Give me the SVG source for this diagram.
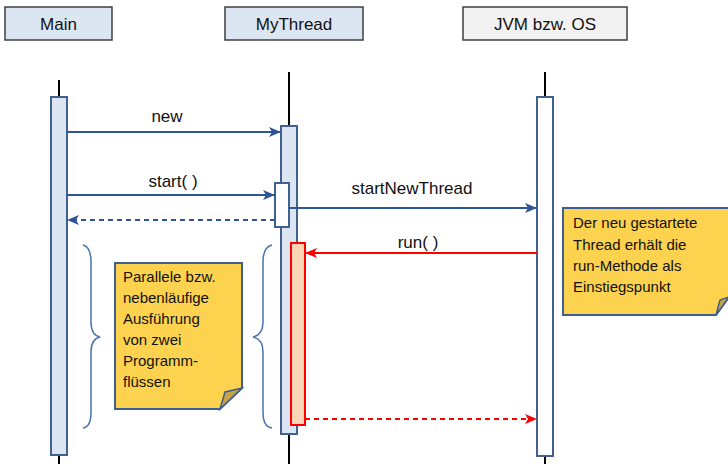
<svg xmlns="http://www.w3.org/2000/svg" width="728" height="464" viewBox="0 0 728 464">
<defs>
<style>
.hdr{stroke:#3f3f3f;stroke-width:1.5}
.txt{font-family:"Liberation Sans",Arial,sans-serif;fill:#111}
.life{stroke:#000;stroke-width:2}
.act{fill:#dce6f2;stroke:#41618f;stroke-width:2}
.blue{stroke:#2f5597;stroke-width:2;fill:none}
.red{stroke:#ff0000;stroke-width:2;fill:none}
.note{fill:#fdd24f;stroke:#3e5f8f;stroke-width:2}
.fold{fill:#c9a444;stroke:#3e5f8f;stroke-width:1.5}
.brace{stroke:#4a72b0;stroke-width:1.5;fill:none}
</style>
<marker id="ab" markerUnits="userSpaceOnUse" markerWidth="12" markerHeight="10" refX="12" refY="5" orient="auto">
<path d="M0,0 L12,5 L0,10 L3,5 Z" fill="#2f5597"/>
</marker>
<marker id="ar" markerUnits="userSpaceOnUse" markerWidth="12" markerHeight="10" refX="12" refY="5" orient="auto">
<path d="M0,0 L12,5 L0,10 L3,5 Z" fill="#ff0000"/>
</marker>
</defs>
<rect width="728" height="464" fill="#fff"/>

<g id="main">
<rect class="hdr" x="5" y="7" width="107" height="33" fill="#dce6f2"/>
<text class="txt" x="58.5" y="30" font-size="17" text-anchor="middle">Main</text>
<line class="life" x1="59" y1="80" x2="59" y2="464"/>
<rect class="act" x="51" y="97" width="16" height="358"/>
</g>

<g id="mythread">
<rect class="hdr" x="225" y="7" width="138" height="33" fill="#dce6f2"/>
<text class="txt" x="294" y="30" font-size="17" text-anchor="middle">MyThread</text>
<line class="life" x1="289" y1="72" x2="289" y2="464"/>
<rect class="act" x="281" y="126" width="16" height="308"/>
<rect x="275" y="183" width="14" height="44" fill="#fff" stroke="#41618f" stroke-width="2"/>
<rect x="291" y="243" width="14" height="182" fill="#fbd5b5" stroke="#ff0000" stroke-width="2"/>
</g>

<g id="jvm">
<rect class="hdr" x="463" y="7" width="164" height="33" fill="#f2f2f2"/>
<text class="txt" x="545" y="30" font-size="17" text-anchor="middle">JVM bzw. OS</text>
<line class="life" x1="545" y1="72" x2="545" y2="464"/>
<rect x="537" y="97" width="16" height="359" fill="#fff" stroke="#41618f" stroke-width="2"/>
</g>

<g id="connectors">
<line class="blue" x1="67" y1="132" x2="281" y2="132" marker-end="url(#ab)"/>
<text class="txt" x="167" y="122" font-size="17" text-anchor="middle">new</text>
<line class="blue" x1="67" y1="195" x2="275" y2="195" marker-end="url(#ab)"/>
<text class="txt" x="173" y="187" font-size="17" text-anchor="middle">start( )</text>
<line class="blue" x1="275" y1="220" x2="67" y2="220" stroke-dasharray="5,4" marker-end="url(#ab)"/>
<line class="blue" x1="289" y1="208" x2="537" y2="208" marker-end="url(#ab)"/>
<text class="txt" x="412" y="194" font-size="17" text-anchor="middle">startNewThread</text>
<line class="red" x1="537" y1="253" x2="305" y2="253" marker-end="url(#ar)"/>
<text class="txt" x="418" y="248" font-size="17" text-anchor="middle">run( )</text>
<line class="red" x1="305" y1="419" x2="537" y2="419" stroke-dasharray="5,4" marker-end="url(#ar)"/>
</g>

<g id="brace-left">
<path class="brace" d="M83,245 Q91,247 91,262 L91,322 Q91,335 100,337 Q91,339 91,352 L91,412 Q91,427 83,428"/>
</g>
<g id="brace-right">
<path class="brace" d="M272,245 Q263,247 263,262 L263,322 Q263,335 253,337 Q263,339 263,352 L263,412 Q263,427 272,428"/>
</g>

<g id="note-left">
<path class="note" d="M115,263 L242,263 L242,388 L220,409 L115,409 Z"/>
<path class="fold" d="M220,409 L225,392 L242,388 Z"/>
<text class="txt" font-size="15">
<tspan x="123" y="282">Parallele bzw.</tspan>
<tspan x="123" y="303">nebenläufige</tspan>
<tspan x="123" y="324">Ausführung</tspan>
<tspan x="123" y="345">von zwei</tspan>
<tspan x="123" y="366">Programm-</tspan>
<tspan x="123" y="387">flüssen</tspan>
</text>
</g>

<g id="note-right">
<path class="note" d="M563,208 L729,208 L729,297 L716,315 L563,315 Z"/>
<path class="fold" d="M716,315 L720,300 L729,297 Z"/>
<text class="txt" font-size="15">
<tspan x="573" y="228">Der neu gestartete</tspan>
<tspan x="573" y="250">Thread erhält die</tspan>
<tspan x="573" y="271">run-Methode als</tspan>
<tspan x="573" y="292">Einstiegspunkt</tspan>
</text>
</g>
</svg>
